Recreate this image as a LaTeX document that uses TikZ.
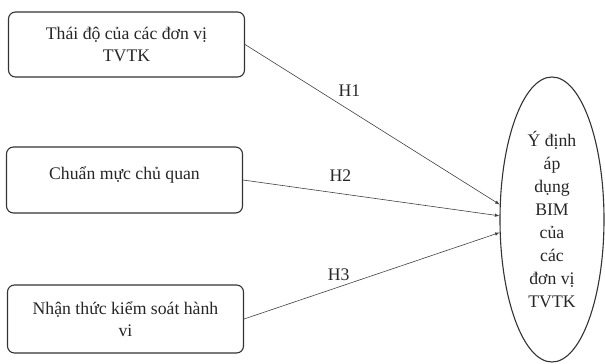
\documentclass[tikz,border=0pt]{standalone}
\usepackage{fontspec}
\setmainfont{Liberation Serif}
\usetikzlibrary{shapes.geometric}

\begin{document}
\begin{tikzpicture}[x=1pt, y=-1pt, -latex,
    font=\fontsize{17.7}{22.5}\selectfont,
    factor/.style={draw=black!80, line width=1.1pt, rounded corners=7pt,
        minimum width=236pt, align=center, text=black!85},
    hyp/.style={draw=black!75, line width=0.6pt}]
    \useasboundingbox (0,0) rectangle (605,364);

    \node[factor, minimum height=65pt] (att) at (126.5,44.5) {Thái độ của các đơn vị\\TVTK};
    \node[factor, minimum height=66pt, text depth=14pt] (norm) at (124.5,180) {Chuẩn mực chủ quan};
    \node[factor, minimum height=68pt] (ctrl) at (125.5,319) {Nhận thức kiểm soát hành\\vi};
    \node[draw=black!80, line width=1.1pt, ellipse, inner sep=0pt, align=center,
        minimum width=104pt, minimum height=285pt, text=black!85,
        font=\fontsize{17.7}{23}\selectfont] (intent) at (552,219.5)
        {Ý định\\áp\\dụng\\BIM\\của\\các\\đơn vị\\TVTK};

    \draw[hyp] (att.east) -- node[above=10pt, pos=.41, text=black!85] {H1} (intent.164);
    \draw[hyp] (norm.east) -- node[above=8pt, pos=.38, text=black!85] {H2} (intent.176);
    \draw[hyp] (ctrl.east) -- node[above=3pt, pos=.37, text=black!85] {H3} (intent.194);
\end{tikzpicture}
\end{document}
